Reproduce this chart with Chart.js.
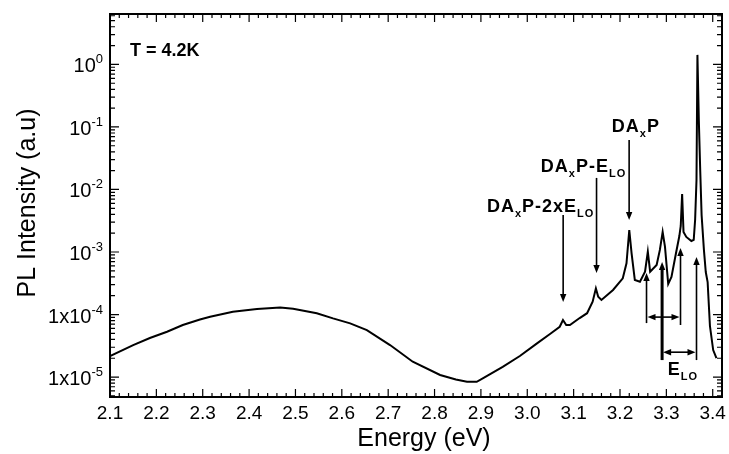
<!DOCTYPE html>
<html>
<head>
<meta charset="utf-8">
<script src="https://cdn.jsdelivr.net/npm/chart.js@4.4.0/dist/chart.umd.min.js"></script>
<style>
  html, body { margin: 0; padding: 0; background: #fff; }
  canvas { display: block; }
</style>
</head>
<body>
<canvas id="plChart" width="729" height="454"></canvas>
<script>
// PL spectrum at 4.2 K
const energy = [
    2.100, 2.150, 2.186, 2.223, 2.257, 2.294, 2.316, 2.365, 2.417, 2.467,
    2.495, 2.546, 2.581, 2.618, 2.654, 2.704, 2.753, 2.812, 2.846, 2.870,
    2.891, 2.904, 2.947, 2.984, 3.021, 3.049, 3.070, 3.077, 3.084, 3.092,
    3.113, 3.129, 3.141, 3.148, 3.153, 3.160, 3.185, 3.206, 3.214, 3.220,
    3.225, 3.232, 3.243, 3.254, 3.260, 3.265, 3.279, 3.286, 3.292, 3.297,
    3.304, 3.311, 3.320, 3.328, 3.331, 3.334, 3.337, 3.343, 3.354, 3.359,
    3.362, 3.365, 3.367, 3.370, 3.373, 3.376, 3.381, 3.385, 3.389, 3.394,
    3.401, 3.408
];
const intensity = [
    2.17e-5, 3.25e-5, 4.21e-5, 5.31e-5, 6.79e-5, 8.32e-5, 9.22e-5, 1.11e-4, 1.23e-4, 1.29e-4,
    1.24e-4, 1.05e-4, 8.69e-5, 7.23e-5, 5.65e-5, 3.25e-5, 1.76e-5, 1.08e-5, 9.12e-6, 8.41e-6,
    8.41e-6, 9.53e-6, 1.46e-5, 2.17e-5, 3.46e-5, 4.88e-5, 6.38e-5, 8.17e-5, 6.79e-5, 6.79e-5,
    8.79e-5, 1.05e-4, 1.60e-4, 2.62e-4, 1.93e-4, 1.71e-4, 2.47e-4, 3.79e-4, 6.59e-4, 2.25e-3,
    9.53e-4, 3.56e-4, 3.35e-4, 4.84e-4, 1.01e-3, 4.84e-4, 6.19e-4, 1.08e-3, 2.09e-3, 1.22e-3,
    3.08e-4, 3.98e-4, 8.95e-4, 1.80e-3, 2.61e-3, 8.47e-3, 2.09e-3, 1.74e-3, 1.50e-3, 1.56e-3,
    3.25e-3, 1.42e-2, 1.42, 0.129, 2.05e-2, 3.91e-3, 1.08e-3, 4.79e-4, 3.31e-4, 6.55e-5,
    2.70e-5, 2.01e-5
];

// Tick labels
const xTicks = [2.1, 2.2, 2.3, 2.4, 2.5, 2.6, 2.7, 2.8, 2.9, 3.0, 3.1, 3.2, 3.3, 3.4];
const yTicks = [1e-5, 1e-4, 1e-3, 1e-2, 1e-1, 1];
const yTickBase = ['1x10', '1x10', '10', '10', '10', '10'];
const yTickExp = ['-5', '-4', '-3', '-2', '-1', '0'];

const FONT = '"Liberation Sans", Arial, Helvetica, sans-serif';

// Peak labels and arrows, in data coordinates
const peakLabels = [
    { x: 3.1824, y: 0.083, parts: [['DA'], ['x', 1], ['P']] },
    { x: 3.0293, y: 0.019, parts: [['DA'], ['x', 1], ['P-E'], ['LO', 1]] },
    { x: 2.9129, y: 4.4e-3, parts: [['DA'], ['x', 1], ['P-2xE'], ['LO', 1]] },
    { x: 3.3031, y: 1.08e-5, parts: [['E'], ['LO', 1]] }
];
const downArrows = [
    { x: 3.2197, from: 0.0619, to: 3.25e-3 },
    { x: 3.1494, from: 0.0153, to: 4.61e-4 },
    { x: 3.0774, from: 3.91e-3, to: 1.59e-4 }
];
const upArrows = [
    { x: 3.2572, from: 7.3e-5, to: 4.61e-4, w: 1.6 },
    { x: 3.2908, from: 1.87e-5, to: 6.9e-4, w: 3 },
    { x: 3.3305, from: 6.8e-5, to: 1.16e-3, w: 1.6 },
    { x: 3.3650, from: 1.87e-5, to: 8.3e-4, w: 1.6 }
];
const spanArrows = [
    { x1: 3.2572, x2: 3.3305, y: 9.1e-5 },
    { x1: 3.2908, x2: 3.3650, y: 2.5e-5 }
];

function drawRich(ctx, parts, x, y, size) {
    parts.forEach(p => {
        const sub = p[1] === 1;
        ctx.font = 'bold ' + (sub ? Math.round(size * 0.62) : size) + 'px ' + FONT;
        ctx.fillText(p[0], x, y + (sub ? size * 0.3 : 0));
        x += ctx.measureText(p[0]).width;
    });
}

function arrowHead(ctx, x, y, dx, dy) {
    // tip at (x, y), pointing along (dx, dy)
    const len = 8, half = 3.2;
    ctx.beginPath();
    ctx.moveTo(x, y);
    ctx.lineTo(x - dx * len - dy * half, y - dy * len + dx * half);
    ctx.lineTo(x - dx * len + dy * half, y - dy * len - dx * half);
    ctx.closePath();
    ctx.fill();
}

const frameAndLabels = {
    id: 'frameAndLabels',
    afterDatasetsDraw(chart) {
        const { ctx, chartArea: a, scales: { x, y } } = chart;
        ctx.save();
        ctx.strokeStyle = '#000';
        ctx.fillStyle = '#000';

        // inward ticks on all four sides
        ctx.lineWidth = 1.2;
        ctx.beginPath();
        for (let i = 0; i <= 70; i++) {
            const v = 2.1 + i * 0.02;
            if (v > x.max + 1e-9) break;
            const px = x.getPixelForValue(v);
            const len = i % 5 === 0 ? 8 : 4;
            ctx.moveTo(px, a.bottom); ctx.lineTo(px, a.bottom - len);
            ctx.moveTo(px, a.top); ctx.lineTo(px, a.top + len);
        }
        for (let d = -6; d <= 0; d++) {
            for (let m = 1; m <= 9; m++) {
                const v = m * Math.pow(10, d);
                if (v < y.min || v > y.max) continue;
                const py = y.getPixelForValue(v);
                const len = m === 1 ? 9 : 5;
                ctx.moveTo(a.left, py); ctx.lineTo(a.left + len, py);
                ctx.moveTo(a.right, py); ctx.lineTo(a.right - len, py);
            }
        }
        ctx.stroke();

        ctx.lineWidth = 2;
        ctx.strokeRect(a.left, a.top, a.right - a.left, a.bottom - a.top);

        // x tick labels
        ctx.font = '19px ' + FONT;
        ctx.textAlign = 'center';
        ctx.textBaseline = 'alphabetic';
        xTicks.forEach(v => ctx.fillText(v.toFixed(1), x.getPixelForValue(v), a.bottom + 22));

        // y tick labels with superscripts
        ctx.textAlign = 'left';
        yTicks.forEach((v, i) => {
            const py = y.getPixelForValue(v);
            ctx.font = '13px ' + FONT;
            const ew = ctx.measureText(yTickExp[i]).width;
            ctx.font = '20px ' + FONT;
            const bw = ctx.measureText(yTickBase[i]).width;
            const left = a.left - 7 - ew - bw;
            ctx.fillText(yTickBase[i], left, py + 8);
            ctx.font = '13px ' + FONT;
            ctx.fillText(yTickExp[i], left + bw, py - 1);
        });

        // axis titles
        ctx.font = '25px ' + FONT;
        ctx.textAlign = 'center';
        ctx.fillText('Energy (eV)', 424, a.bottom + 49);
        ctx.save();
        ctx.translate(35, 203);
        ctx.rotate(-Math.PI / 2);
        ctx.fillText('PL Intensity (a.u)', 0, 0);
        ctx.restore();

        // temperature note
        ctx.textAlign = 'left';
        ctx.font = 'bold 18px ' + FONT;
        ctx.fillText('T = 4.2K', a.left + 20, a.top + 42);

        // peak labels
        ctx.letterSpacing = '1px';
        peakLabels.forEach(l => drawRich(ctx, l.parts, x.getPixelForValue(l.x), y.getPixelForValue(l.y), 18));
        ctx.letterSpacing = '0px';

        // arrows
        ctx.lineWidth = 1.6;
        downArrows.forEach(ar => {
            const px = x.getPixelForValue(ar.x);
            const y1 = y.getPixelForValue(ar.from), y2 = y.getPixelForValue(ar.to);
            ctx.beginPath(); ctx.moveTo(px, y1); ctx.lineTo(px, y2 - 6); ctx.stroke();
            arrowHead(ctx, px, y2, 0, 1);
        });
        upArrows.forEach(ar => {
            const px = x.getPixelForValue(ar.x);
            const y1 = y.getPixelForValue(ar.from), y2 = y.getPixelForValue(ar.to);
            ctx.lineWidth = ar.w;
            ctx.beginPath(); ctx.moveTo(px, y1); ctx.lineTo(px, y2 + 6); ctx.stroke();
            arrowHead(ctx, px, y2, 0, -1);
        });
        ctx.lineWidth = 1.6;
        spanArrows.forEach(ar => {
            const x1 = x.getPixelForValue(ar.x1), x2 = x.getPixelForValue(ar.x2);
            const py = y.getPixelForValue(ar.y);
            ctx.beginPath(); ctx.moveTo(x1 + 6, py); ctx.lineTo(x2 - 6, py); ctx.stroke();
            arrowHead(ctx, x1 + 1, py, -1, 0);
            arrowHead(ctx, x2 - 1, py, 1, 0);
        });
        ctx.restore();
    }
};

const ctx = document.getElementById('plChart').getContext('2d');
new Chart(ctx, {
    type: 'line',
    data: {
        datasets: [{
            data: energy.map((e, i) => ({ x: e, y: intensity[i] })),
            borderColor: '#000',
            borderWidth: 2,
            pointRadius: 0,
            tension: 0,
            fill: false
        }]
    },
    options: {
        responsive: false,
        animation: false,
        devicePixelRatio: 1,
        layout: { padding: { left: 110, top: 14, right: 7, bottom: 57 } },
        plugins: {
            legend: { display: false },
            tooltip: { enabled: false }
        },
        scales: {
            x: { type: 'linear', min: 2.1, max: 3.42, display: false },
            y: { type: 'logarithmic', min: 4.8e-6, max: 6.4, display: false }
        }
    },
    plugins: [frameAndLabels]
});
</script>
</body>
</html>
